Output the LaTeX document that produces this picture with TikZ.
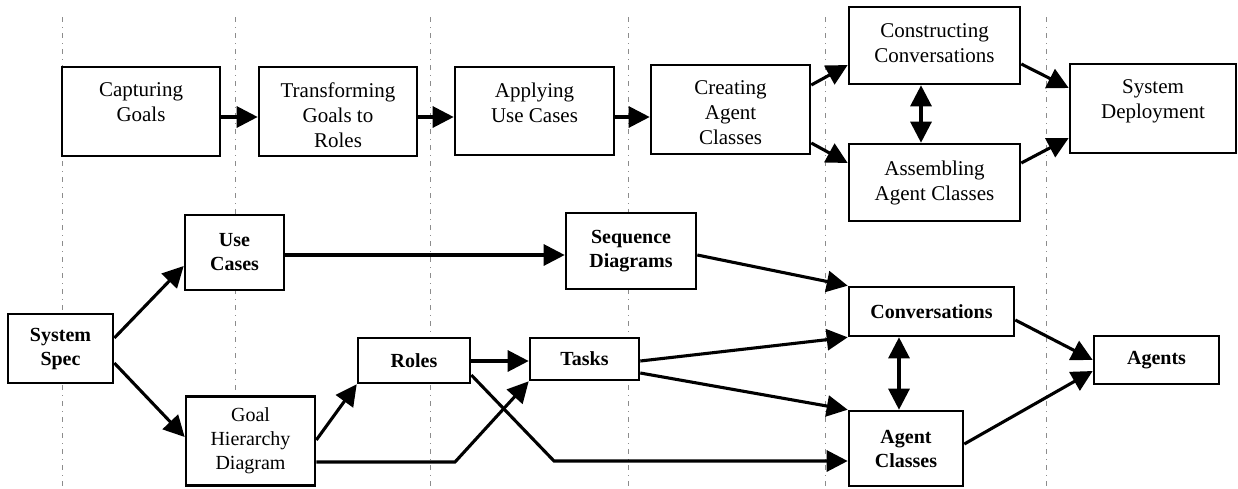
\documentclass[tikz,border=0pt]{standalone}
\usepackage{fontspec}
\setmainfont{Liberation Serif}
\usetikzlibrary{arrows.meta}
\begin{document}
\begin{tikzpicture}[x=1pt,y=-1pt,
  box/.style={draw, line width=2.6pt, fill=white, inner sep=0pt, anchor=center},
  toptxt/.style={font=\fontsize{21}{25}\selectfont, align=center, inner sep=0pt, anchor=north},
  bot/.style={box, font=\fontsize{20}{24}\selectfont\bfseries, align=center},
  botreg/.style={box, font=\fontsize{20}{24}\selectfont, align=center},
  arr/.style={line width=3.1pt, -{Triangle[length=21pt,width=21pt]}},
  dbl/.style={line width=3.1pt, {Triangle[length=21pt,width=21pt]}-{Triangle[length=21pt,width=21pt]}},
  guide/.style={draw=black!45, line width=0.8pt, dash pattern=on 5pt off 5pt on 1pt off 5pt}]
\useasboundingbox (0,0) rectangle (1238,488);
% guide lines
\foreach \gx in {62,235,430,628,825,1046}
  \draw[guide] (\gx,17) -- (\gx,488);
% top row boxes
\node[box, minimum width=158pt, minimum height=89pt] (cap) at (141,111.5) {};
\node[box, minimum width=158pt, minimum height=89pt] (trans) at (338,111.5) {};
\node[box, minimum width=159pt, minimum height=88pt] (apply) at (534.5,111) {};
\node[box, minimum width=159pt, minimum height=89pt] (create) at (730.5,109.5) {};
\node[box, minimum width=171pt, minimum height=77pt] (constr) at (934.5,45.5) {};
\node[box, minimum width=171pt, minimum height=77pt] (assem) at (934.5,182.5) {};
\node[box, minimum width=166pt, minimum height=89pt] (sysdep) at (1153,108.5) {};
% top row texts
\node[toptxt] (capT) at ([yshift=-17pt]cap.north) {Capturing\\Goals};
\node[toptxt] (transT) at ([yshift=-17pt]trans.north) {Transforming\\Goals to\\Roles};
\node[toptxt] (applyT) at ([yshift=-17pt]apply.north) {Applying\\Use Cases};
\node[toptxt] (createT) at ([yshift=-17pt]create.north) {Creating\\Agent\\Classes};
\node[toptxt] (constrT) at ([yshift=-18pt]constr.north) {Constructing\\Conversations};
\node[toptxt] (assemT) at ([yshift=-18pt]assem.north) {Assembling\\Agent Classes};
\node[toptxt] (sysdepT) at ([yshift=-17pt]sysdep.north) {System\\Deployment};
% bottom boxes
\node[bot, minimum width=105pt, minimum height=69pt] (spec) at (60.5,348.5) {System\\Spec};
\node[bot, minimum width=99pt, minimum height=75pt] (use) at (234.5,252.5) {Use\\Cases};
\node[botreg, minimum width=129pt, minimum height=89pt] (goal) at (250.5,441) {Goal\\Hierarchy\\Diagram};
\node[bot, minimum width=112pt, minimum height=45pt] (roles) at (414,360.5) {Roles};
\node[bot, minimum width=109pt, minimum height=42pt] (tasks) at (584.5,359) {Tasks};
\node[bot, minimum width=130pt, minimum height=76pt] (seq) at (631,251) {Sequence\\Diagrams};
\node[bot, minimum width=165pt, minimum height=49pt] (conv) at (931.5,311.5) {Conversations};
\node[bot, minimum width=114pt, minimum height=75pt] (agcl) at (906,448.5) {Agent\\Classes};
\node[bot, minimum width=125pt, minimum height=48pt] (agents) at (1156.5,360) {Agents};
% top connectors
\draw[arr] (cap.east |- 0,117) -- (trans.west |- 0,117);
\draw[arr] (trans.east |- 0,117) -- (apply.west |- 0,117);
\draw[arr] (apply.east |- 0,117) -- (create.west |- 0,117);
\draw[arr] (create.east |- 0,85) -- (constr.west |- 0,65);
\draw[arr] (create.east |- 0,143) -- (assem.west |- 0,163);
\draw[arr] (constr.east |- 0,64) -- (sysdep.west |- 0,88);
\draw[arr] (assem.east |- 0,163) -- (sysdep.west |- 0,138);
\draw[dbl] (921,0 |- constr.south) -- (921,0 |- assem.north);
% bottom connectors
\draw[arr] (spec.east |- 0,338) -- (use.west |- 0,266);
\draw[arr] (spec.east |- 0,363) -- (goal.west |- 0,437);
\draw[arr] (use.east |- 0,255) -- (seq.west |- 0,255);
\draw[arr] (goal.east |- 0,440) -- (roles.south west);
\draw[arr] (goal.east |- 0,462) -- (455,462) -- (tasks.south west);
\draw[arr] (roles.east |- 0,361) -- (tasks.west |- 0,361);
\draw[arr] (roles.east |- 0,375) -- (554,461) -- (agcl.west |- 0,461);
\draw[arr] (seq.east |- 0,255) -- (conv.north west);
\draw[arr] (tasks.east |- 0,361) -- (conv.south west);
\draw[arr] (tasks.east |- 0,373) -- (agcl.north west);
\draw[arr] (conv.east |- 0,320) -- (agents.west |- 0,360);
\draw[arr] (agcl.east |- 0,444) -- (agents.west |- 0,371);
\draw[dbl] (899,0 |- conv.south) -- (899,0 |- agcl.north);
\end{tikzpicture}
\end{document}
